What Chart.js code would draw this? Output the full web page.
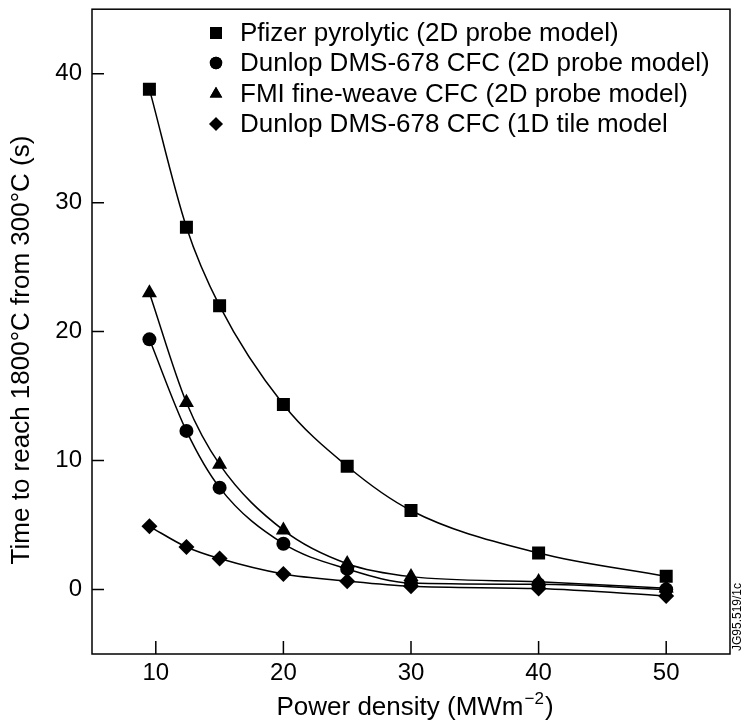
<!DOCTYPE html>
<html>
<head>
<meta charset="utf-8">
<script src="https://cdn.jsdelivr.net/npm/chart.js@4.4.1/dist/chart.umd.min.js"></script>
<style>
  html, body { margin: 0; padding: 0; background: #fff; }
  #wrap { width: 744px; height: 727px; }
</style>
</head>
<body>
<div id="wrap"><canvas id="c" width="744" height="727"></canvas></div>
<script>
// ---- data ----
const powerDensity = [9.5, 12.4, 15, 20, 25, 30, 40, 50];
const pfizer2D   = [38.8, 28.1, 22.0, 14.35, 9.56, 6.13, 2.83, 1.02];
const dunlop2D   = [19.4, 12.3, 7.9, 3.55, 1.6, 0.5, 0.4, 0.0];
const fmi2D      = [23.0, 14.5, 9.7, 4.6, 2.0, 1.0, 0.6, 0.1];
const dunlop1D   = [4.9, 3.3, 2.4, 1.2, 0.65, 0.25, 0.07, -0.5];
const seriesLabels = [
  'Pfizer pyrolytic (2D probe model)',
  'Dunlop DMS-678 CFC (2D probe model)',
  'FMI fine-weave CFC (2D probe model)',
  'Dunlop DMS-678 CFC (1D tile model'
];
const xTicks = [10, 20, 30, 40, 50];
const yTicks = [0, 10, 20, 30, 40];
const xTitle = 'Power density (MWm';
const xTitleSup = '\u22122';
const yTitle = 'Time to reach 1800\u00B0C from 300\u00B0C (s)';
const codeLabel = 'JG95.519/1c';

const FONT = '"Liberation Sans", Arial, Helvetica, sans-serif';
const pts = ys => powerDensity.map((x, i) => ({x, y: ys[i]}));
const styles = ['rect', 'circle', 'triangle', 'rectRot'];
const radii = [9.2, 7, 8.7, 8];
const legendRadii = [8.5, 6.2, 7.2, 6.8];

const datasets = [pfizer2D, dunlop2D, fmi2D, dunlop1D].map((ys, i) => ({
  label: seriesLabels[i],
  data: pts(ys),
  borderColor: '#000',
  backgroundColor: '#000',
  borderWidth: 1.5,
  pointStyle: styles[i],
  pointRadius: radii[i],
  pointBorderWidth: 0,
  pointBackgroundColor: '#000',
  cubicInterpolationMode: 'monotone',
  fill: false
}));

const decor = {
  id: 'decor',
  afterDraw(chart) {
    const {ctx, chartArea: a, scales: {x, y}} = chart;
    ctx.save();
    ctx.strokeStyle = '#000';
    ctx.lineWidth = 1.5;
    // frame
    ctx.strokeRect(a.left, a.top, a.right - a.left, a.bottom - a.top);
    // inward ticks
    ctx.beginPath();
    xTicks.forEach(v => { const px = x.getPixelForValue(v); ctx.moveTo(px, a.bottom); ctx.lineTo(px, a.bottom - 13); });
    yTicks.forEach(v => { const py = y.getPixelForValue(v); ctx.moveTo(a.left, py); ctx.lineTo(a.left + 12, py); });
    ctx.stroke();
    // legend inside plot
    ctx.fillStyle = '#000';
    ctx.font = '26px ' + FONT;
    ctx.textBaseline = 'middle';
    ctx.textAlign = 'left';
    const rows = [33, 63, 94, 124];
    chart.data.datasets.forEach((ds, i) => {
      Chart.helpers.drawPoint(ctx, {pointStyle: ds.pointStyle, radius: legendRadii[i], rotation: 0, borderWidth: 0}, 216, rows[i]);
      ctx.fill();
      ctx.fillText(ds.label, 240, rows[i] + 1);
    });
    // y title
    ctx.save();
    ctx.translate(22, 350);
    ctx.rotate(-Math.PI / 2);
    ctx.textAlign = 'center';
    ctx.font = '26px ' + FONT;
    ctx.fillText(yTitle, 0, 0);
    ctx.restore();
    // x title with superscript
    ctx.font = '26px ' + FONT;
    const w1 = ctx.measureText(xTitle).width;
    ctx.font = '17px ' + FONT;
    const w2 = ctx.measureText(xTitleSup).width;
    ctx.font = '26px ' + FONT;
    const w3 = ctx.measureText(')').width;
    let sx = 414 - (w1 + w2 + w3) / 2;
    const ty = 708;
    ctx.textAlign = 'left';
    ctx.fillText(xTitle, sx, ty);
    ctx.font = '17px ' + FONT;
    ctx.fillText(xTitleSup, sx + w1 + 1, ty - 9);
    ctx.font = '26px ' + FONT;
    ctx.fillText(')', sx + w1 + w2 + 2, ty);
    // code label
    ctx.save();
    ctx.translate(738, 617);
    ctx.rotate(-Math.PI / 2);
    ctx.textAlign = 'center';
    ctx.font = '12px ' + FONT;
    ctx.fillText(codeLabel, 0, 0);
    ctx.restore();
    ctx.restore();
  }
};

new Chart(document.getElementById('c'), {
  type: 'line',
  data: { datasets },
  options: {
    responsive: false,
    animation: false,
    events: [],
    layout: { padding: { top: 5, right: 14, left: 0, bottom: 0 } },
    plugins: { legend: { display: false }, tooltip: { enabled: false } },
    scales: {
      x: {
        type: 'linear', min: 5, max: 55,
        afterBuildTicks: s => { s.ticks = xTicks.map(v => ({value: v})); },
        afterFit: s => { s.height = 73; s.paddingLeft = 0; s.paddingRight = 0; },
        grid: { display: false, drawTicks: false },
        border: { display: false },
        ticks: { color: '#000', font: { size: 24, family: FONT }, padding: 5, maxRotation: 0 },
        title: { display: false }
      },
      y: {
        type: 'linear', min: -5, max: 45,
        afterBuildTicks: s => { s.ticks = yTicks.map(v => ({value: v})); },
        afterFit: s => { s.width = 92; s.paddingTop = 0; s.paddingBottom = 0; },
        grid: { display: false, drawTicks: false },
        border: { display: false },
        ticks: { color: '#000', font: { size: 24, family: FONT }, padding: 10 },
        title: { display: false }
      }
    }
  },
  plugins: [decor]
});
</script>
</body>
</html>
